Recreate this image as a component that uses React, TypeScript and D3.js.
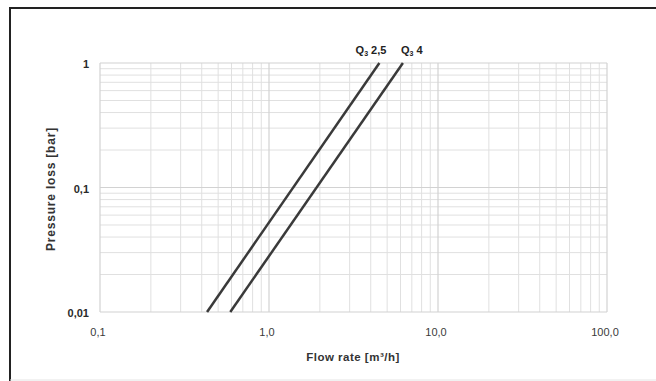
import { useEffect, useRef } from 'react'
import * as d3 from 'd3'

// curve end points: [flow m³/h, pressure bar]
const seriesNames = ['2,5', '4']
const q25Flow = [0.43, 4.5]
const q25Loss = [0.01, 1]
const q4Flow = [0.59, 6.2]
const q4Loss = [0.01, 1]

const xTicks = [0.1, 1, 10, 100]
const xTickLabels = ['0,1', '1,0', '10,0', '100,0']
const yTicks = [0.01, 0.1, 1]
const yTickLabels = ['0,01', '0,1', '1']

const FONT = 'Liberation Sans, Arial, sans-serif'

export default function App() {
  const svgRef = useRef<SVGSVGElement>(null)

  useEffect(() => {
    const W = 656
    const H = 381
    const svg = d3.select(svgRef.current).attr('width', W).attr('height', H)
    svg.selectAll('*').remove()

    svg.append('rect').attr('width', W).attr('height', H).attr('fill', '#fff')

    // scanned page frame
    svg.append('path')
      .attr('d', `M10,381 L10,8 L656,8`)
      .attr('fill', 'none').attr('stroke', '#222').attr('stroke-width', 2)
    svg.append('line').attr('x1', 10).attr('x2', 656).attr('y1', 380).attr('y2', 380)
      .attr('stroke', '#e4e4e4').attr('stroke-width', 1)

    const x = d3.scaleLog().domain([0.1, 100]).range([100, 607])
    const y = d3.scaleLog().domain([0.01, 1]).range([312, 63])

    const g = svg.append('g')

    // minor grid
    const xMinor: number[] = []
    for (let d = 0.1; d < 100; d *= 10) for (let k = 2; k <= 9; k++) xMinor.push(d * k)
    const yMinor: number[] = []
    for (let d = 0.01; d < 1; d *= 10) for (let k = 2; k <= 9; k++) yMinor.push(d * k)

    g.selectAll('.vx').data(xMinor).join('line')
      .attr('x1', d => x(d)).attr('x2', d => x(d)).attr('y1', y(0.01)).attr('y2', y(1))
      .attr('stroke', '#e0e0e0').attr('stroke-width', 1)
    g.selectAll('.hy').data(yMinor).join('line')
      .attr('y1', d => y(d)).attr('y2', d => y(d)).attr('x1', x(0.1)).attr('x2', x(100))
      .attr('stroke', '#e0e0e0').attr('stroke-width', 1)

    g.selectAll('.vxM').data(xTicks).join('line')
      .attr('x1', d => x(d)).attr('x2', d => x(d)).attr('y1', y(0.01)).attr('y2', y(1))
      .attr('stroke', '#d2d2d2').attr('stroke-width', 1.2)
    g.selectAll('.hyM').data(yTicks).join('line')
      .attr('y1', d => y(d)).attr('y2', d => y(d)).attr('x1', x(0.1)).attr('x2', x(100))
      .attr('stroke', '#d2d2d2').attr('stroke-width', 1.2)

    // tick labels
    g.selectAll('.xl').data(xTicks).join('text')
      .attr('x', d => x(d) - 2).attr('y', 336)
      .attr('text-anchor', 'middle')
      .attr('font-family', FONT).attr('font-size', 11)
      .attr('fill', '#3a3a3a')
      .text((d, i) => xTickLabels[i])
    g.selectAll('.yl').data(yTicks).join('text')
      .attr('x', 89).attr('y', d => y(d) + 5)
      .attr('text-anchor', 'end')
      .attr('font-family', FONT).attr('font-size', 11)
      .attr('font-weight', 'bold')
      .attr('fill', '#2a2a2a')
      .text((d, i) => yTickLabels[i])

    // axis titles
    g.append('text').attr('x', 353).attr('y', 361).attr('text-anchor', 'middle')
      .attr('font-family', FONT).attr('font-size', 11.5).attr('letter-spacing', 0.5)
      .attr('font-weight', 'bold').attr('fill', '#333')
      .text('Flow rate [m³/h]')
    g.append('text').attr('transform', 'translate(55,189) rotate(-90)').attr('text-anchor', 'middle')
      .attr('font-family', FONT).attr('font-size', 12).attr('letter-spacing', 0.8)
      .attr('font-weight', 'bold').attr('fill', '#333')
      .text('Pressure loss [bar]')

    // curves
    const series = [
      { name: seriesNames[0], anchor: 'end', dx: 7, pts: q25Flow.map((f, i) => [f, q25Loss[i]] as [number, number]) },
      { name: seriesNames[1], anchor: 'start', dx: -2, pts: q4Flow.map((f, i) => [f, q4Loss[i]] as [number, number]) },
    ]
    const line = d3.line<[number, number]>().x(d => x(d[0])).y(d => y(d[1]))
    series.forEach(s => {
      g.append('path').attr('d', line(s.pts)).attr('fill', 'none')
        .attr('stroke', '#3a3a3a').attr('stroke-width', 2.5)
      const top = s.pts[s.pts.length - 1]
      const t = g.append('text').attr('x', x(top[0]) + s.dx).attr('y', 54)
        .attr('text-anchor', s.anchor)
        .attr('font-family', FONT).attr('font-size', 11)
        .attr('font-weight', 'bold').attr('fill', '#222')
      t.append('tspan').text('Q')
      t.append('tspan').attr('font-size', 7).attr('dy', 2).text('3')
      t.append('tspan').attr('dy', -2).text(' ' + s.name)
    })
  }, [])

  return (
    <div style={{ position: 'absolute', left: 0, top: 0 }}>
      <svg ref={svgRef} style={{ display: 'block' }} />
    </div>
  )
}
